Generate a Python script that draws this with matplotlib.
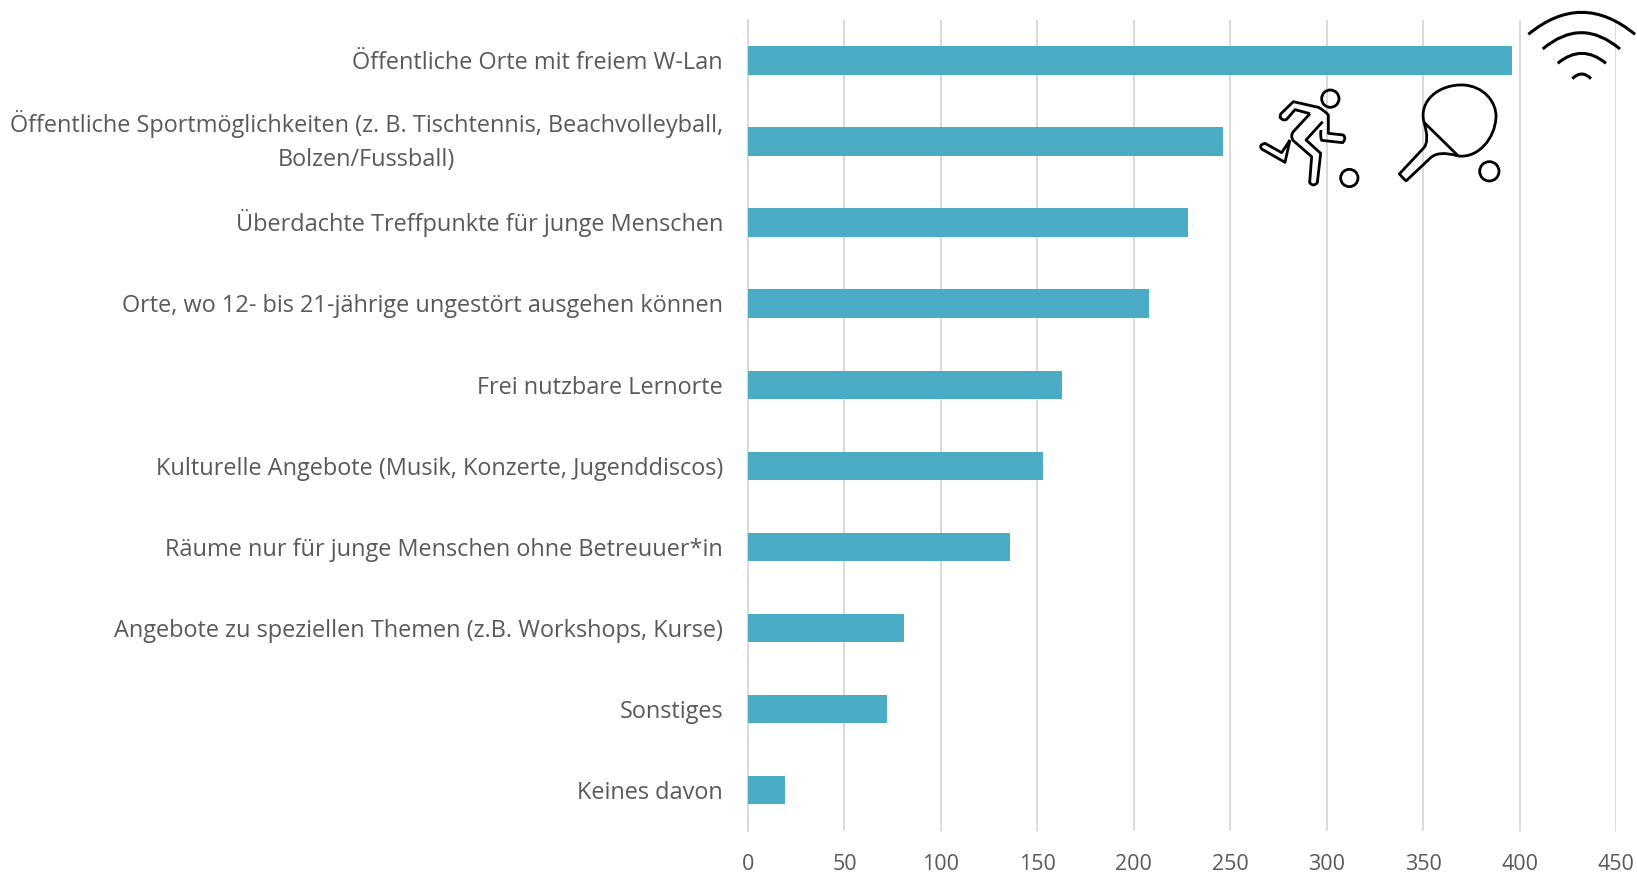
import matplotlib
matplotlib.use("Agg")
import matplotlib.pyplot as plt
from matplotlib.path import Path
from matplotlib.patches import PathPatch, Circle
from matplotlib.transforms import Affine2D

categories = [
    "Öffentliche Orte mit freiem W-Lan",
    "Öffentliche Sportmöglichkeiten (z. B. Tischtennis, Beachvolleyball,\nBolzen/Fussball)",
    "Überdachte Treffpunkte für junge Menschen",
    "Orte, wo 12- bis 21-jährige ungestört ausgehen können",
    "Frei nutzbare Lernorte",
    "Kulturelle Angebote (Musik, Konzerte, Jugenddiscos)",
    "Räume nur für junge Menschen ohne Betreuuer*in",
    "Angebote zu speziellen Themen (z.B. Workshops, Kurse)",
    "Sonstiges",
    "Keines davon",
]
values = [396, 246, 228, 208, 163, 153, 136, 81, 72, 19]
xticks = [0, 50, 100, 150, 200, 250, 300, 350, 400, 450]

W, H = 1637, 873
plt.rcParams["font.family"] = ["Open Sans", "DejaVu Sans"]
TEXT = "#595959"
GRID = "#d9d9d9"
BAR = "#4bacc6"

fig = plt.figure(figsize=(W / 100, H / 100), dpi=100, facecolor="white")
ax = fig.add_axes([748 / W, 1 - 830.5 / H, (1616 - 748) / W, (830.5 - 20) / H])
ypos = list(range(len(values)))
ax.barh(ypos, values, height=0.35, color=BAR, zorder=3)
ax.set_xlim(0, 450)
ax.set_ylim(len(values) - 0.5, -0.5)
ax.set_xticks(xticks)
ax.set_yticks(ypos)
ax.set_yticklabels(categories, ma="center", fontsize=16.93, color=TEXT, linespacing=1.52)
ax.tick_params(axis="y", length=0, pad=18)
ax.tick_params(axis="x", length=0, pad=17, labelsize=15.5, labelcolor=TEXT)
ax.grid(axis="x", color=GRID, linewidth=1.4, zorder=0)
ax.set_axisbelow(True)
for name, sp in ax.spines.items():
    sp.set_visible(name == "left")
ax.spines["left"].set_color(GRID)
ax.spines["left"].set_linewidth(1.4)

# put every label's baseline at the reference's distance from its bar centre
for lbl in ax.get_yticklabels():
    drop = 24 if "\n" in lbl.get_text() else 8.8
    lbl.set_verticalalignment("baseline")
    lbl.set_transform(lbl.get_transform() + Affine2D().translate(0, -drop))

# decorative icons, in coordinates of a 3x crop of the region (1230,0)-(1637,200)
ov = fig.add_axes([1230 / W, 1 - 200 / H, 407 / W, 200 / H], facecolor="none")
ov.set_xlim(0, 1221)
ov.set_ylim(600, 0)
ov.axis("off")
M, L, Q, C = Path.MOVETO, Path.LINETO, Path.CURVE3, Path.CURVE4


def stroke(verts, codes, lw=2.0):
    ov.add_patch(PathPatch(Path(verts, codes), fc="none", ec="black", lw=lw,
                           capstyle="butt", joinstyle="round"))


for x0, c_y, x2, y0 in [(895, -29, 1215, 103), (938, 49, 1170, 147),
                        (983, 130, 1128, 190), (1027, 208, 1083, 236)]:
    stroke([(x0, y0), ((x0 + x2) / 2, c_y), (x2, y0)], [M, Q, Q], lw=2.2)

# runner
stroke([(240, 341), (195, 329), (170, 358), (160, 364), (150, 352), (152, 342),
        (190, 305), (265, 322), (283, 331), (295, 345), (295, 400), (340, 405),
        (350, 415), (338, 428), (275, 421), (270, 412), (273, 390)],
       [M, L, L, Q, Q, L, L, L, Q, Q, L, L, Q, Q, L, Q, Q])
stroke([(278, 365), (228, 420), (272, 460), (262, 548), (250, 562), (239, 548),
        (245, 470), (190, 422), (180, 408), (190, 395), (240, 341)],
       [M, L, L, L, Q, Q, L, L, Q, Q, L])
stroke([(180, 420), (165, 487), (95, 447), (85, 435), (105, 430), (155, 458), (180, 420)],
       [M, L, L, Q, Q, L, L])
ov.add_patch(Circle((301, 296), 26, fc="none", ec="black", lw=2.0))
ov.add_patch(Circle((358, 534), 26, fc="none", ec="black", lw=2.0))

# racket
stroke([(582, 367), (565, 300), (630, 252), (700, 255), (760, 258), (800, 305),
        (798, 352), (795, 415), (745, 475), (685, 468)],
       [M, C, C, C, C, C, C, C, C, C])
stroke([(582, 367), (685, 468)], [M, L])
stroke([(582, 367), (600, 425), (580, 445), (508, 522), (528, 543), (600, 475),
        (625, 450), (685, 468)],
       [M, Q, Q, L, L, L, Q, Q])
ov.add_patch(Circle((778, 514), 29, fc="none", ec="black", lw=2.0))

fig.savefig("out.png", dpi=100)
